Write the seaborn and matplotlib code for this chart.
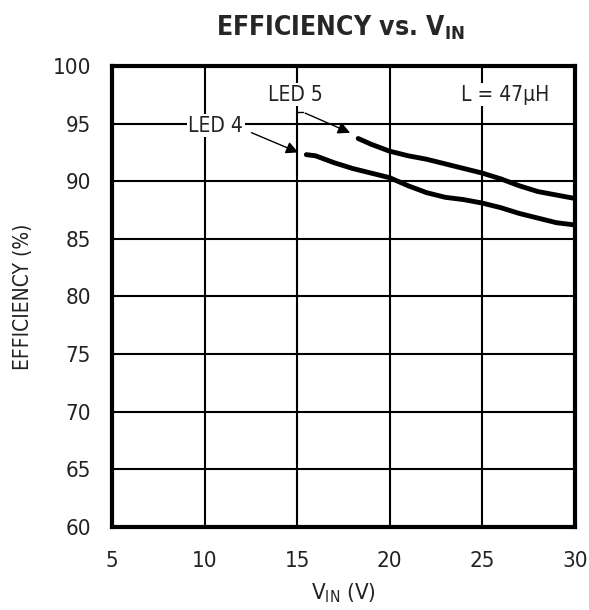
import matplotlib
matplotlib.use('Agg')
import matplotlib.pyplot as plt
import seaborn as sns
import pandas as pd

# values
led5_vin = [18.3, 19.0, 20.0, 21.0, 22.0, 23.0, 24.0, 25.0, 26.0, 27.0, 28.0, 29.0, 30.0]
led5_eff = [93.7, 93.2, 92.6, 92.2, 91.9, 91.5, 91.1, 90.7, 90.2, 89.6, 89.1, 88.8, 88.5]
led4_vin = [15.5, 16.0, 17.0, 18.0, 19.0, 20.0, 21.0, 22.0, 23.0, 24.0, 25.0, 26.0, 27.0, 28.0, 29.0, 30.0]
led4_eff = [92.3, 92.2, 91.6, 91.1, 90.7, 90.3, 89.6, 89.0, 88.6, 88.4, 88.1, 87.7, 87.2, 86.8, 86.4, 86.2]
x_ticks = [5, 10, 15, 20, 25, 30]
y_ticks = [60, 65, 70, 75, 80, 85, 90, 95, 100]

df = pd.concat([
    pd.DataFrame({'vin': led5_vin, 'eff': led5_eff, 'led': 'LED 5'}),
    pd.DataFrame({'vin': led4_vin, 'eff': led4_eff, 'led': 'LED 4'}),
])

sns.set_style('white')
plt.rcParams['font.family'] = ['DejaVu Sans']
plt.rcParams['font.stretch'] = 'condensed'

fig = plt.figure(figsize=(5.89, 6.10), dpi=100)
ax = fig.add_axes([0.190, 0.136, 0.786, 0.756])

sns.lineplot(data=df, x='vin', y='eff', hue='led', palette=['black', 'black'],
             linewidth=3.5, legend=False, ax=ax, zorder=3)

ax.set_xlim(5, 30)
ax.set_ylim(60, 100)
ax.set_xticks(x_ticks)
ax.set_yticks(y_ticks)
ax.grid(True, color='black', linewidth=1.5)
ax.tick_params(length=0, labelsize=16, colors='#222222')
ax.tick_params(axis='x', pad=17)
ax.tick_params(axis='y', pad=15)
for s in ax.spines.values():
    s.set_linewidth(3)
    s.set_color('black')

ax.set_xlabel('V$_{\\mathregular{IN}}$ (V)', fontsize=16, labelpad=8, color='#222222')
ax.set_ylabel('EFFICIENCY (%)', fontsize=15, labelpad=14, color='#222222')
fig.text(0.578, 0.955, 'EFFICIENCY vs. V$_{\\mathregular{IN}}$', ha='center', va='center',
         fontsize=19, fontweight='bold')

ax.text(28.6, 97.5, 'L = 47\u03bcH', ha='right', va='center', fontsize=15, color='#222222',
        bbox=dict(facecolor='white', edgecolor='none', pad=1), zorder=4)

ax.text(14.9, 97.5, 'LED 5', ha='center', va='center', fontsize=15, color='#222222',
        bbox=dict(facecolor='white', edgecolor='none', pad=1), zorder=4)
ax.text(10.6, 94.8, 'LED 4', ha='center', va='center', fontsize=15, color='#222222',
        bbox=dict(facecolor='white', edgecolor='none', pad=1), zorder=4)

ax.plot([15.0, 15.3], [96.0, 96.0], color='black', linewidth=1, zorder=4)
ax.annotate('', xy=(18.0, 94.1), xytext=(15.3, 96.0),
            arrowprops=dict(arrowstyle='-|>', color='black', lw=1, mutation_scale=18), zorder=4)
ax.annotate('', xy=(15.2, 92.4), xytext=(12.4, 94.3),
            arrowprops=dict(arrowstyle='-|>', color='black', lw=1, mutation_scale=18), zorder=4)

fig.savefig('out.png', dpi=100, facecolor='white')
